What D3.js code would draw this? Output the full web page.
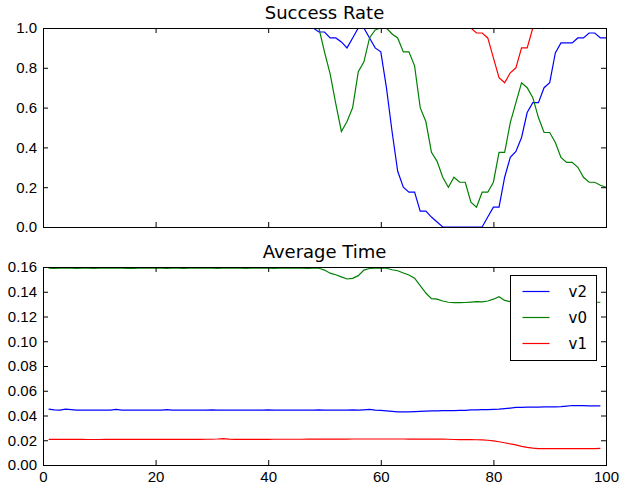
<!DOCTYPE html>
<html>
<head>
<meta charset="UTF-8">
<title>Success Rate / Average Time</title>
<style>
  body { margin: 0; background: #fff; }
  svg { display: block; font-family: "DejaVu Sans", sans-serif; }
  .axis text { font-size: 15px; fill: #000; }
  .axis line { stroke: #000; }
</style>
</head>
<body>
<script src="https://d3js.org/d3.v7.min.js"></script>
<svg width="621" height="484"></svg>
<script>
// series names, in legend order
var names = ["v2", "v0", "v1"];
var colors = ["#0000ff", "#008000", "#ff0000"];

// success rate, x = 0..100
var rateV2 = [
  1,1,1,1,1,1,1,1,1,1, 1,1,1,1,1,1,1,1,1,1, 1,1,1,1,1,1,1,1,1,1,
  1,1,1,1,1,1,1,1,1,1, 1,1,1,1,1,1,1,1,1,
  0.98,0.98,0.95,0.95,0.93,0.90,0.95,1.0,1.0,0.95,0.90,0.88,0.70,0.48,0.28,0.20,
  0.175,0.175,0.08,0.08,0.05,0.025,0,0,0,0,0,0,0,0,0.05,0.10,0.10,0.25,0.35,
  0.38,0.45,0.575,0.625,0.625,0.70,0.725,0.875,0.925,0.925,0.925,0.95,0.95,
  0.975,0.975,0.95,0.95
];
var rateV0 = [
  1,1,1,1,1,1,1,1,1,1, 1,1,1,1,1,1,1,1,1,1, 1,1,1,1,1,1,1,1,1,1,
  1,1,1,1,1,1,1,1,1,1, 1,1,1,1,1,1,1,1,1,1,
  0.88,0.77,0.62,0.48,0.53,0.60,0.78,0.83,0.95,0.99,1.0,1.0,0.97,0.95,0.88,0.88,
  0.81,0.60,0.53,0.375,0.33,0.25,0.20,0.25,0.225,0.225,0.125,0.10,0.175,0.175,
  0.225,0.375,0.375,0.525,0.625,0.725,0.70,0.65,0.55,0.475,0.475,0.425,0.35,
  0.325,0.325,0.30,0.25,0.225,0.225,0.21,0.20
];
var rateV1 = [
  1,1,1,1,1,1,1,1,1,1, 1,1,1,1,1,1,1,1,1,1, 1,1,1,1,1,1,1,1,1,1,
  1,1,1,1,1,1,1,1,1,1, 1,1,1,1,1,1,1,1,1,1, 1,1,1,1,1,1,1,1,1,1,
  1,1,1,1,1,1,1,1,1,1, 1,1,1,1,1,1,1,
  0.975,0.975,0.95,0.85,0.75,0.725,0.775,0.80,0.90,0.90,
  1,1,1,1,1,1,1,1,1,1,1,1,1,1
];

// average time, x = 1..99
var timeV2 = [
  0.0452,0.0446,0.0444,0.0451,0.0448,0.0444,0.0443,0.0443,0.0443,0.0443,
  0.0443,0.0443,0.0449,0.0444,0.0443,0.0443,0.0443,0.0443,0.0443,0.0443,
  0.0443,0.0448,0.0443,0.0443,0.0443,0.0443,0.0444,0.0444,0.0444,0.0446,
  0.0444,0.0443,0.0443,0.0444,0.0444,0.0444,0.0444,0.0443,0.0443,0.0445,
  0.0444,0.0443,0.0443,0.0444,0.0444,0.0443,0.0443,0.0444,0.0446,0.0444,
  0.0444,0.0443,0.0443,0.0444,0.0445,0.0444,0.0446,0.0449,0.0443,0.0441,
  0.0437,0.0433,0.0429,0.0429,0.0430,0.0432,0.0434,0.0436,0.0437,0.0438,
  0.0440,0.0440,0.0440,0.0441,0.0442,0.0445,0.0446,0.0447,0.0448,0.0450,
  0.0451,0.0455,0.0460,0.0466,0.0465,0.0467,0.0467,0.0468,0.0470,0.0469,
  0.0470,0.0472,0.0476,0.0481,0.0480,0.0479,0.0478,0.0477,0.0477
];
var timeV0 = [
  0.1590,0.1589,0.1590,0.1590,0.1591,0.1589,0.1590,0.1590,0.1588,0.1590,
  0.1590,0.1590,0.1591,0.1590,0.1589,0.1589,0.1590,0.1590,0.1590,0.1590,
  0.1590,0.1589,0.1590,0.1590,0.1589,0.1590,0.1590,0.1591,0.1590,0.1590,
  0.1589,0.1590,0.1590,0.1590,0.1590,0.1589,0.1590,0.1590,0.1590,0.1590,
  0.1589,0.1590,0.1590,0.1590,0.1590,0.1590,0.1589,0.1590,0.1590,0.1575,
  0.1550,0.1537,0.1520,0.1503,0.1508,0.1530,0.1575,0.1588,0.1590,0.1590,
  0.1590,0.1578,0.1570,0.1552,0.1535,0.1510,0.1450,0.1390,0.1345,0.1340,
  0.1325,0.1315,0.1312,0.1312,0.1313,0.1316,0.1320,0.1318,0.1325,0.1340,
  0.1360,0.1330,0.1320,0.1318,0.1322,0.1325,0.1320,0.1318,0.1320,0.1322,
  0.1320,0.1318,0.1318,0.1320,0.1318,0.1317,0.1316,0.1315,0.1315
];
var timeV1 = [
  0.0207,0.0207,0.0207,0.0207,0.0207,0.0207,0.0207,0.0206,0.0206,0.0206,
  0.0207,0.0207,0.0207,0.0207,0.0207,0.0207,0.0207,0.0207,0.0207,0.0207,
  0.0207,0.0207,0.0207,0.0207,0.0207,0.0207,0.0207,0.0207,0.0208,0.0208,
  0.0210,0.0213,0.0209,0.0207,0.0207,0.0207,0.0207,0.0207,0.0207,0.0207,
  0.0208,0.0208,0.0208,0.0208,0.0208,0.0208,0.0209,0.0209,0.0209,0.0209,
  0.0209,0.0209,0.0209,0.0209,0.0210,0.0210,0.0210,0.0210,0.0210,0.0210,
  0.0210,0.0210,0.0210,0.0210,0.0209,0.0209,0.0209,0.0209,0.0209,0.0209,
  0.0209,0.0208,0.0206,0.0205,0.0205,0.0205,0.0204,0.0203,0.0200,0.0195,
  0.0188,0.0180,0.0170,0.0162,0.0150,0.0142,0.0136,0.0133,0.0132,0.0132,
  0.0132,0.0132,0.0132,0.0133,0.0133,0.0133,0.0132,0.0133,0.0134
];

var xTicks = [0, 20, 40, 60, 80, 100];
var rateTicks = [0, 0.2, 0.4, 0.6, 0.8, 1.0];
var timeTicks = [0, 0.02, 0.04, 0.06, 0.08, 0.10, 0.12, 0.14, 0.16];

var svg = d3.select("svg");
var left = 43, right = 606;

var x = d3.scaleLinear().domain([0, 100]).range([left, right]);

function panel(id, top, bottom, yDomain, yTicks, fmt, title, series, xStart, showX) {
  var y = d3.scaleLinear().domain(yDomain).range([bottom, top]);

  // spines sit on half pixels like the d3 tick lines
  svg.append("clipPath").attr("id", id)
    .append("rect")
    .attr("x", left + 0.5).attr("y", top + 0.5)
    .attr("width", right - left).attr("height", bottom - top);

  var line = d3.line()
    .x(function(d, i) { return x(i + xStart); })
    .y(function(d) { return y(d); });

  var g = svg.append("g").attr("clip-path", "url(#" + id + ")");
  series.forEach(function(s, k) {
    g.append("path")
      .attr("d", line(s))
      .attr("fill", "none")
      .attr("stroke", colors[k])
      .attr("stroke-width", 1.2);
  });

  // inward ticks on all four sides
  svg.append("g").attr("class", "axis")
    .attr("transform", "translate(" + left + ",0)")
    .call(d3.axisLeft(y).tickValues(yTicks).tickFormat(d3.format(fmt))
      .tickSizeInner(-5).tickSizeOuter(0).tickPadding(6));
  svg.append("g").attr("class", "axis")
    .attr("transform", "translate(" + right + ",0)")
    .call(d3.axisRight(y).tickValues(yTicks).tickFormat("")
      .tickSizeInner(-5).tickSizeOuter(0));
  svg.append("g").attr("class", "axis")
    .attr("transform", "translate(0," + top + ")")
    .call(d3.axisTop(x).tickValues(xTicks).tickFormat("")
      .tickSizeInner(-5).tickSizeOuter(0));
  svg.append("g").attr("class", "axis")
    .attr("transform", "translate(0," + bottom + ")")
    .call(d3.axisBottom(x).tickValues(xTicks)
      .tickFormat(showX ? d3.format("d") : "")
      .tickSizeInner(-5).tickSizeOuter(0).tickPadding(6));
  svg.selectAll(".axis .domain").remove();

  svg.append("rect")
    .attr("x", left + 0.5).attr("y", top + 0.5)
    .attr("width", right - left).attr("height", bottom - top)
    .attr("fill", "none").attr("stroke", "#000").attr("stroke-width", 1);

  svg.append("text")
    .attr("x", (left + right) / 2).attr("y", top - 9)
    .attr("text-anchor", "middle")
    .style("font-size", "18px")
    .text(title);
}

panel("clipTop", 28, 227, [0, 1], rateTicks, ".1f", "Success Rate",
  [rateV2, rateV0, rateV1], 0, false);
panel("clipBottom", 267, 465, [0, 0.16], timeTicks, ".2f", "Average Time",
  [timeV2, timeV0, timeV1], 1, true);

// legend
var lg = svg.append("g").attr("transform", "translate(510.5,275.5)");
lg.append("rect").attr("width", 86).attr("height", 85)
  .attr("fill", "#fff").attr("stroke", "#000").attr("stroke-width", 1);
names.forEach(function(n, k) {
  var yy = 16 + k * 26;
  lg.append("line").attr("x1", 12).attr("x2", 39).attr("y1", yy).attr("y2", yy)
    .attr("stroke", colors[k]).attr("stroke-width", 1.2);
  lg.append("text").attr("x", 58).attr("y", yy).attr("dy", "0.35em")
    .style("font-size", "15px").text(n);
});
</script>
</body>
</html>
